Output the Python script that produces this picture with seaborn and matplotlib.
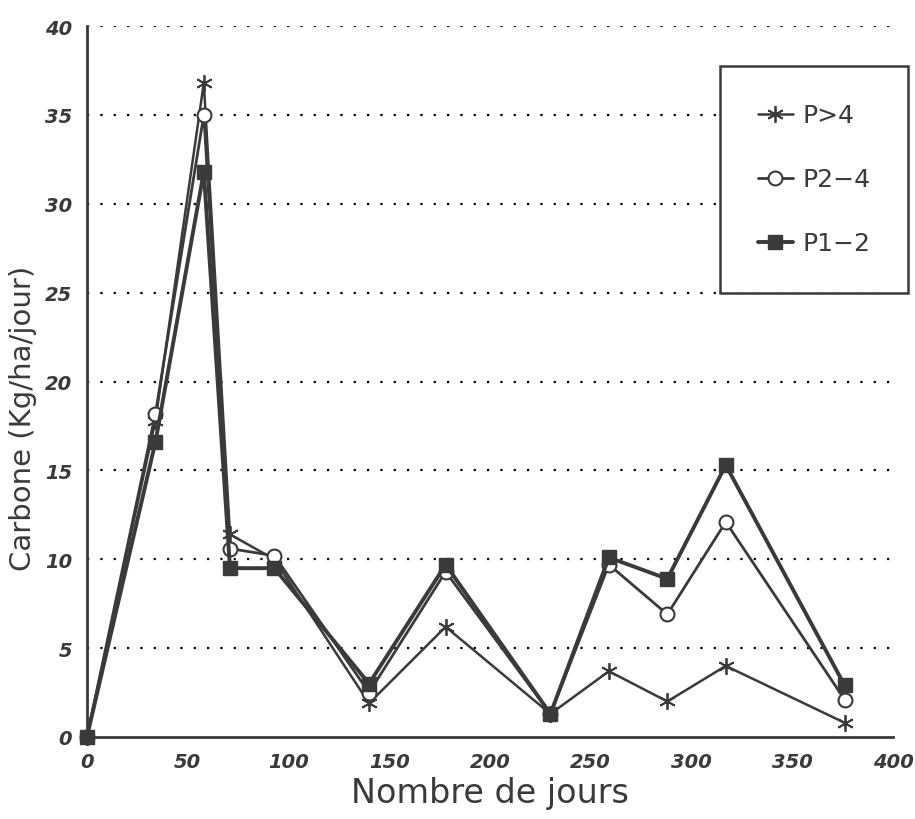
import pandas as pd
import matplotlib
matplotlib.use('Agg')
import matplotlib.pyplot as plt
import seaborn as sns

# Jours de prélèvement
jours = [0, 34, 58, 71, 93, 140, 178, 230, 259, 288, 317, 376]

# Carbone (Kg/ha/jour) par classe
p_sup4 = [0, 17.8, 36.8, 11.4, 10.0, 1.9, 6.2, 1.3, 3.7, 2.0, 4.0, 0.8]
p2_4 = [0, 18.2, 35.0, 10.6, 10.2, 2.5, 9.3, 1.3, 9.7, 6.9, 12.1, 2.1]
p1_2 = [0, 16.6, 31.8, 9.5, 9.5, 3.0, 9.7, 1.3, 10.1, 8.9, 15.3, 2.9]

series = ['P>4', 'P2\u22124', 'P1\u22122']

df = pd.DataFrame({
    'jours': jours * 3,
    'carbone': p_sup4 + p2_4 + p1_2,
    'serie': [s for s in series for _ in jours],
})

sns.set_style('white')
plt.rcParams['font.family'] = ['DejaVu Sans']

ink = '#3a3a3a'
styles = {
    'P>4': dict(marker=(6, 2, 0), markersize=12, linewidth=1.8,
                markerfacecolor=ink, markeredgewidth=1.3),
    'P2\u22124': dict(marker='o', markersize=10, linewidth=2.0,
                     markerfacecolor='white', markeredgewidth=1.5),
    'P1\u22122': dict(marker='s', markersize=10, linewidth=2.8,
                     markerfacecolor=ink, markeredgewidth=1.0),
}

fig = plt.figure(figsize=(9.15, 8.2), dpi=100)
ax = fig.add_axes([0.095, 0.1, 0.881, 0.867])

for s in series:
    sub = df[df['serie'] == s]
    sns.lineplot(data=sub, x='jours', y='carbone', ax=ax, color=ink,
                 markeredgecolor=ink, label=s, clip_on=False, zorder=3,
                 **styles[s])

ax.set_xlim(0, 400)
ax.set_ylim(0, 40)
ax.set_xticks(range(0, 401, 50))
ax.set_yticks(range(0, 41, 5))

for y in range(5, 41, 5):
    ax.axhline(y, color='black', linestyle=(0, (1, 5)), linewidth=1.6,
               zorder=0)

for side in ['top', 'right']:
    ax.spines[side].set_visible(False)
for side in ['left', 'bottom']:
    ax.spines[side].set_color(ink)
    ax.spines[side].set_linewidth(2)

ax.tick_params(axis='both', direction='inout', length=14, width=2,
               color=ink, labelcolor=ink, labelsize=14)
for lab in ax.get_xticklabels() + ax.get_yticklabels():
    lab.set_fontweight('bold')
    lab.set_fontstyle('italic')

ax.set_xlabel('Nombre de jours', fontsize=24, color=ink, labelpad=4)
ax.set_ylabel('Carbone (Kg/ha/jour)', fontsize=21, color=ink)
ax.yaxis.set_label_coords(-0.062, 0.45)

leg = ax.legend(loc='upper right', bbox_to_anchor=(1.019, 0.944),
                frameon=True, fancybox=False, framealpha=1, fontsize=18,
                handlelength=1.4, handletextpad=0.4, labelspacing=1.6,
                borderpad=1.5, borderaxespad=0)
leg.get_frame().set_edgecolor(ink)
leg.get_frame().set_linewidth(1.8)
for t in leg.get_texts():
    t.set_color(ink)

fig.savefig('out.png', dpi=100)
